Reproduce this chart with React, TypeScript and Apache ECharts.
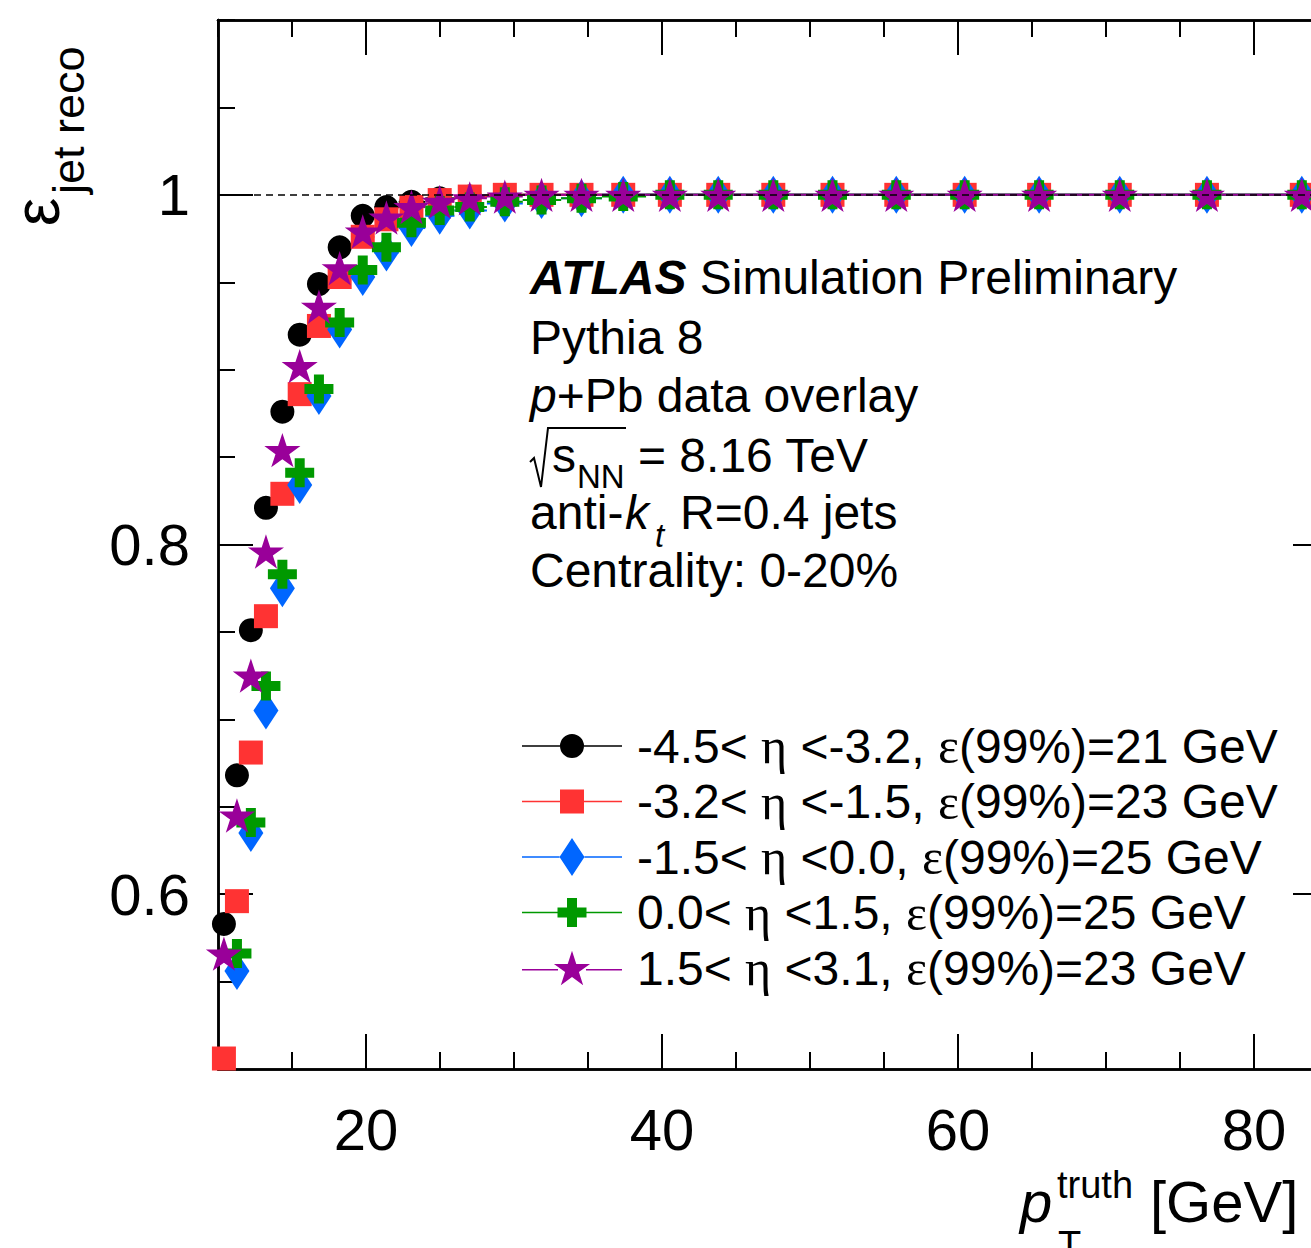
import React, { useEffect, useRef } from 'react';
import * as echarts from 'echarts';

// ---- data ----
const binCenters = [10.40, 11.28, 12.22, 13.24, 14.35, 15.52, 16.82, 18.22, 19.78, 21.38, 23.07, 24.98, 27.01, 29.38, 31.86, 34.56, 37.38, 40.53, 43.80, 47.52, 51.52, 55.83, 60.45, 65.48, 70.93, 76.82, 83.23];

const effEtaM45toM32 = [0.583, 0.668, 0.751, 0.821, 0.876, 0.920, 0.949, 0.970, 0.988, 0.993, 0.996, 0.998, 0.999, 1.0, 1.0, 1.0, 1.0, 1.0, 1.0, 1.0, 1.0, 1.0, 1.0, 1.0, 1.0, 1.0, 1.0];
const effEtaM32toM15 = [0.506, 0.596, 0.681, 0.759, 0.829, 0.886, 0.925, 0.953, 0.976, 0.986, 0.993, 0.997, 0.999, 1.0, 1.0, 1.0, 1.0, 1.0, 1.0, 1.0, 1.0, 1.0, 1.0, 1.0, 1.0, 1.0, 1.0];
const effEtaM15to00 = [null, 0.556, 0.635, 0.705, 0.775, 0.834, 0.885, 0.923, 0.953, 0.967, 0.981, 0.988, 0.991, 0.995, 0.997, 0.998, 1.0, 1.0, 1.0, 1.0, 1.0, 1.0, 1.0, 1.0, 1.0, 1.0, 1.0];
const effEta00to15 = [null, 0.566, 0.641, 0.719, 0.783, 0.841, 0.889, 0.927, 0.957, 0.970, 0.984, 0.991, 0.993, 0.996, 0.997, 0.998, 0.999, 1.0, 1.0, 1.0, 1.0, 1.0, 1.0, 1.0, 1.0, 1.0, 1.0];
const effEta15to31 = [0.566, 0.645, 0.725, 0.796, 0.854, 0.902, 0.936, 0.958, 0.979, 0.987, 0.993, 0.996, 0.998, 0.999, 1.0, 1.0, 1.0, 1.0, 1.0, 1.0, 1.0, 1.0, 1.0, 1.0, 1.0, 1.0, 1.0];

const etaLow = ['-4.5', '-3.2', '-1.5', '0.0', '1.5'];
const etaHigh = ['-3.2', '-1.5', '0.0', '1.5', '3.1'];
const pt99 = [21, 23, 25, 25, 23];

const xMajorTicks = [20, 40, 60, 80];
const yMajorTicks = [0.6, 0.8, 1.0];

// ---- styling ----
const FONT = "'Liberation Sans', Arial, Helvetica, sans-serif";
const SERIF = "'Liberation Serif', 'DejaVu Serif', serif";
const colors = ['#000000', '#ff3333', '#0066ff', '#009900', '#990099'];

function starPath(cx: number, cy: number, R: number) {
  const r = R * 0.382;
  let d = '';
  for (let k = 0; k < 10; k++) {
    const rad = k % 2 === 0 ? R : r;
    const a = -Math.PI / 2 + (k * Math.PI) / 5;
    d += (k === 0 ? 'M' : 'L') + (cx + rad * Math.cos(a)).toFixed(2) + ',' + (cy + rad * Math.sin(a)).toFixed(2);
  }
  return d + 'Z';
}
const crossPathCentered = (cx: number, cy: number) =>
  `M${cx - 5},${cy - 14.5}H${cx + 5}V${cy - 5}H${cx + 14.5}V${cy + 5}H${cx + 5}V${cy + 14.5}H${cx - 5}V${cy + 5}H${cx - 14.5}V${cy - 5}H${cx - 5}Z`;

const markerSymbols: any[] = [
  'circle',
  'rect',
  'diamond',
  'path://' + crossPathCentered(0, 0),
  'path://' + starPath(0, 0, 19),
];
const markerSizes: any[] = [24, 24, [25, 38], 29, [36.1, 34.4]];

function lineSegs(hw: number) {
  return `M0,18.25H${50 - hw}V19.75H0Z M${50 + hw},18.25H100V19.75H${50 + hw}Z `;
}
const legendIcons = [
  'path://' + lineSegs(12) + 'M38,19A12,12 0 1,1 62,19A12,12 0 1,1 38,19Z',
  'path://' + lineSegs(12) + 'M38,7H62V31H38Z',
  'path://' + lineSegs(12.5) + 'M50,0L62.5,19L50,38L37.5,19Z',
  'path://' + lineSegs(14.5) + crossPathCentered(50, 19),
  'path://' + lineSegs(14) + starPath(50, 19, 19),
];

const allValues = [effEtaM45toM32, effEtaM32toM15, effEtaM15to00, effEta00to15, effEta15to31];
const labels = etaLow.map((lo, k) => `${lo}< η <${etaHigh[k]}, ε(99%)=${pt99[k]} GeV`);

function binEdges(c: number[]) {
  return c.map((v, i) => {
    const prev = i > 0 ? c[i - 1] : (v * v) / c[i + 1];
    const next = i < c.length - 1 ? c[i + 1] : (v * v) / c[i - 1];
    return [Math.sqrt(prev * v), Math.sqrt(v * next)];
  });
}

function buildOption() {
  const edges = binEdges(binCenters);
  const series: any[] = [];
  allValues.forEach((vals, k) => {
    const errData: any[] = [];
    const ptData: any[] = [];
    vals.forEach((v, i) => {
      if (v == null) return;
      errData.push([edges[i][0], edges[i][1], v]);
      ptData.push([binCenters[i], v]);
    });
    const color = colors[k];
    series.push({
      type: 'custom',
      name: 'err' + k,
      xAxisIndex: 0,
      yAxisIndex: 0,
      clip: true,
      silent: true,
      encode: { x: [0, 1], y: 2 },
      data: errData,
      renderItem: (params: any, api: any) => {
        const y = api.value(2);
        const p1 = api.coord([api.value(0), y]);
        const p2 = api.coord([api.value(1), y]);
        return {
          type: 'line',
          shape: { x1: p1[0], y1: p1[1], x2: p2[0], y2: p2[1] },
          style: { stroke: color, lineWidth: 2 },
        };
      },
    });
    const sc: any = {
      type: 'scatter',
      name: labels[k],
      xAxisIndex: 0,
      yAxisIndex: 0,
      symbol: markerSymbols[k],
      symbolSize: markerSizes[k],
      itemStyle: { color, opacity: 1 },
      data: ptData,
      silent: true,
    };
    if (k === 0) {
      sc.markLine = {
        silent: true,
        symbol: ['none', 'none'],
        label: { show: false },
        lineStyle: { color: '#000', type: [7, 5], width: 1.5 },
        data: [{ yAxis: 1 }],
      };
    }
    series.push(sc);
  });

  const tickStyle = { color: '#000', width: 2 };
  const lineStyle = { color: '#000', width: 2.5 };
  const xBase = { type: 'value', min: 10, max: 85, splitLine: { show: false }, axisLine: { show: true, onZero: false, lineStyle } };
  const yBase = { type: 'value', min: 0.5, max: 1.1, splitLine: { show: false }, axisLine: { show: true, onZero: false, lineStyle } };
  const labelStyle = { color: '#000', fontSize: 58, fontFamily: FONT };

  return {
    animation: false,
    backgroundColor: '#ffffff',
    grid: { left: 218, right: -17, top: 20, bottom: 179, containLabel: false, outerBoundsMode: 'none' },
    xAxis: [
      { ...xBase, position: 'bottom', interval: 5, axisTick: { show: true, inside: true, length: 17, lineStyle: tickStyle }, axisLabel: { show: false } },
      { ...xBase, position: 'bottom', axisTick: { show: true, inside: true, length: 35, customValues: xMajorTicks, lineStyle: tickStyle }, axisLabel: { show: true, customValues: xMajorTicks, margin: 31, ...labelStyle } },
      { ...xBase, position: 'top', interval: 5, axisTick: { show: true, inside: true, length: 17, lineStyle: tickStyle }, axisLabel: { show: false } },
      { ...xBase, position: 'top', axisTick: { show: true, inside: true, length: 35, customValues: xMajorTicks, lineStyle: tickStyle }, axisLabel: { show: false } },
    ],
    yAxis: [
      { ...yBase, position: 'left', interval: 0.05, axisTick: { show: true, inside: true, length: 17, lineStyle: tickStyle }, axisLabel: { show: false } },
      { ...yBase, position: 'left', axisTick: { show: true, inside: true, length: 35, customValues: yMajorTicks, lineStyle: tickStyle }, axisLabel: { show: true, customValues: yMajorTicks, margin: 28, ...labelStyle, formatter: (v: number) => String(Math.round(v * 10) / 10) } },
      { ...yBase, position: 'right', interval: 0.05, axisTick: { show: true, inside: true, length: 17, lineStyle: tickStyle }, axisLabel: { show: false } },
      { ...yBase, position: 'right', axisTick: { show: true, inside: true, length: 35, customValues: yMajorTicks, lineStyle: tickStyle }, axisLabel: { show: false } },
    ],
    legend: {
      orient: 'vertical',
      left: 517,
      top: 716,
      itemWidth: 100,
      itemHeight: 38,
      itemGap: 5.5,
      selectedMode: false,
      data: labels.map((n, k) => ({ name: n, icon: legendIcons[k] })),
      formatter: (name: string) => name.replace(/η/g, '{g|η}').replace(/ε/g, '{g|ε}'),
      textStyle: {
        color: '#000',
        fontSize: 48,
        fontFamily: FONT,
        padding: [0, 0, 0, 10],
        rich: { g: { fontFamily: SERIF, fontSize: 50, color: '#000' } },
      },
    },
    graphic: [
      { type: 'text', x: 530, y: 277, style: { text: '{b|ATLAS} Simulation Preliminary', fontSize: 48, fontFamily: FONT, fill: '#000', align: 'left', verticalAlign: 'middle', rich: { b: { fontSize: 48, fontFamily: FONT, fontWeight: 'bold', fontStyle: 'italic', fill: '#000' } } } },
      { type: 'text', x: 530, y: 337, style: { text: 'Pythia 8', fontSize: 48, fontFamily: FONT, fill: '#000', align: 'left', verticalAlign: 'middle' } },
      { type: 'text', x: 530, y: 395, style: { text: '{i|p}+Pb data overlay', fontSize: 48, fontFamily: FONT, fill: '#000', align: 'left', verticalAlign: 'middle', rich: { i: { fontSize: 48, fontFamily: FONT, fontStyle: 'italic', fill: '#000' } } } },
      { type: 'polyline', shape: { points: [[530, 462], [534, 458], [541, 487], [548, 428], [626, 428]] }, style: { stroke: '#000', lineWidth: 2, fill: null } },
      { type: 'text', x: 552, y: 455, style: { text: 's', fontSize: 48, fontFamily: FONT, fill: '#000', align: 'left', verticalAlign: 'middle' } },
      { type: 'text', x: 577, y: 476, style: { text: 'NN', fontSize: 33, fontFamily: FONT, fill: '#000', align: 'left', verticalAlign: 'middle' } },
      { type: 'text', x: 638, y: 455, style: { text: '= 8.16 TeV', fontSize: 48, fontFamily: FONT, fill: '#000', align: 'left', verticalAlign: 'middle' } },
      { type: 'text', x: 530, y: 512, style: { text: 'anti-', fontSize: 48, fontFamily: FONT, fill: '#000', align: 'left', verticalAlign: 'middle' } },
      { type: 'text', x: 625, y: 512, style: { text: 'k', fontSize: 48, fontFamily: FONT, fontStyle: 'italic', fill: '#000', align: 'left', verticalAlign: 'middle' } },
      { type: 'text', x: 655, y: 535, style: { text: 't', fontSize: 33, fontFamily: FONT, fontStyle: 'italic', fill: '#000', align: 'left', verticalAlign: 'middle' } },
      { type: 'text', x: 680, y: 512, style: { text: 'R=0.4 jets', fontSize: 48, fontFamily: FONT, fill: '#000', align: 'left', verticalAlign: 'middle' } },
      { type: 'text', x: 530, y: 570, style: { text: 'Centrality: 0-20%', fontSize: 48, fontFamily: FONT, fill: '#000', align: 'left', verticalAlign: 'middle' } },
      // x axis title
      { type: 'text', x: 1020, y: 1201, style: { text: 'p', fontSize: 58, fontFamily: FONT, fontStyle: 'italic', fill: '#000', align: 'left', verticalAlign: 'middle' } },
      { type: 'text', x: 1057, y: 1185, style: { text: 'truth', fontSize: 38, fontFamily: FONT, fill: '#000', align: 'left', verticalAlign: 'middle' } },
      { type: 'text', x: 1058, y: 1245, style: { text: 'T', fontSize: 38, fontFamily: FONT, fill: '#000', align: 'left', verticalAlign: 'middle' } },
      { type: 'text', x: 1150, y: 1201, style: { text: '[GeV]', fontSize: 58, fontFamily: FONT, fill: '#000', align: 'left', verticalAlign: 'middle' } },
      // y axis title
      { type: 'text', x: 37, y: 212, rotation: Math.PI / 2, style: { text: 'ε', fontSize: 64, fontFamily: FONT, fill: '#000', align: 'center', verticalAlign: 'middle' } },
      { type: 'text', x: 68, y: 194, rotation: Math.PI / 2, style: { text: 'jet reco', fontSize: 45, fontFamily: FONT, fill: '#000', align: 'left', verticalAlign: 'middle' } },
    ],
    series,
  };
}

export default function App() {
  const ref = useRef<HTMLDivElement>(null);
  useEffect(() => {
    if (!ref.current) return;
    const chart = echarts.init(ref.current, null, { renderer: 'svg' });
    chart.setOption(buildOption() as any);
    return () => chart.dispose();
  }, []);
  return (
    <div
      ref={ref}
      style={{ position: 'absolute', left: 0, top: 0, width: 1311, height: 1248, background: '#ffffff', overflow: 'hidden' }}
    />
  );
}
